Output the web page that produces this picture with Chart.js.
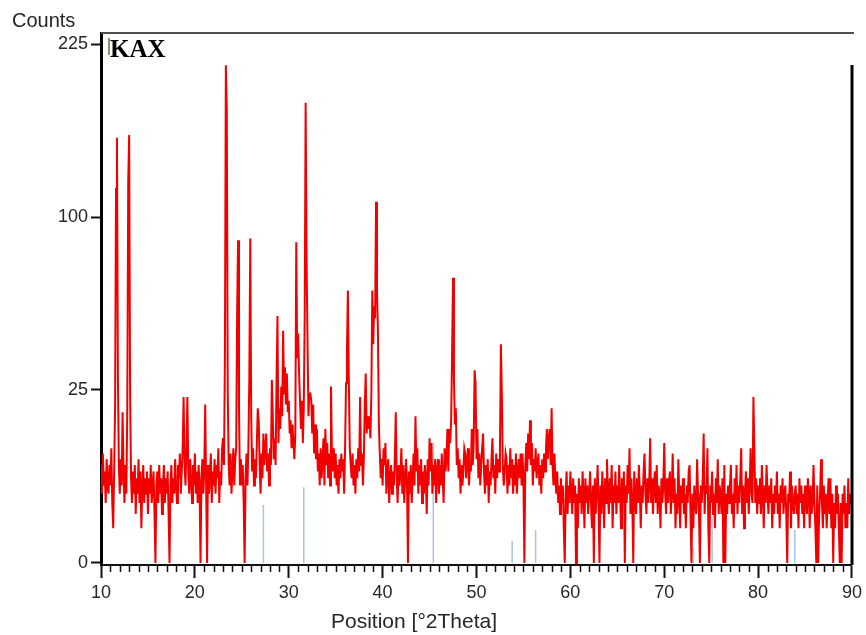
<!DOCTYPE html>
<html>
<head>
<meta charset="utf-8">
<title>KAX</title>
<script src="https://cdn.jsdelivr.net/npm/chart.js@4.4.1/dist/chart.umd.min.js"></script>
<style>
    body { margin: 0; background: #fff; }
    #wrap { width: 866px; height: 635px; }
</style>
</head>
<body>
<div id="wrap"><canvas id="xrdChart" width="866" height="635"></canvas></div>
<script>
// scan: one count reading every 0.1 deg 2theta, from 10 to 90
var startAngle = 10;
var stepAngle = 0.1;

var counts = [
    8, 4, 10, 5, 7, 3, 9, 5, 4, 8,           // 10
    5, 11, 3, 1, 7, 20, 117, 151, 30, 8,
    4, 9, 5, 19, 7, 3, 8, 4, 20, 122,
    153, 24, 6, 3, 7, 4, 8, 2, 6, 4,
    9, 3, 7, 1, 5, 8, 3, 6, 4, 7,
    2, 6, 4, 8, 3, 5, 7, 2, 0, 5,
    7, 3, 8, 4, 6, 2, 5, 8, 3, 6,
    4, 7, 2, 0, 5, 8, 3, 6, 4, 9,
    5, 3, 8, 6, 10, 4, 7, 11, 23, 8,
    5, 11, 23, 7, 4, 9, 6, 3, 8, 5,
    10, 4, 7, 3, 8, 5, 0, 6, 9, 4,           // 20
    7, 21, 5, 0, 8, 4, 6, 10, 3, 7,
    5, 9, 4, 8, 6, 11, 3, 7, 5, 11,
    13, 8, 35, 207, 171, 25, 8, 5, 10, 4,
    7, 11, 5, 9, 11, 51, 87, 20, 5, 9,
    5, 8, 3, 0, 6, 10, 5, 11, 29, 88,
    18, 7, 11, 5, 9, 6, 12, 20, 17, 8,
    4, 10, 6, 14, 8, 11, 14, 7, 10, 5,
    11, 8, 28, 18, 9, 13, 8, 28, 51, 12,
    20, 15, 26, 18, 45, 24, 32, 21, 30, 19,
    22, 14, 17, 11, 16, 12, 9, 14, 86, 35,   // 30
    44, 30, 22, 15, 22, 12, 20, 51, 177, 77,
    41, 18, 24, 24, 22, 14, 21, 10, 16, 9,
    15, 7, 10, 5, 11, 6, 9, 13, 5, 15,
    8, 12, 6, 10, 5, 26, 10, 7, 11, 6,
    10, 5, 8, 4, 9, 6, 10, 7, 9, 4,
    11, 27, 37, 62, 28, 11, 8, 6, 10, 5,
    8, 4, 9, 6, 11, 7, 23, 8, 10, 5,
    9, 21, 30, 14, 18, 15, 18, 13, 24, 62,
    40, 55, 50, 109, 62, 45, 16, 10, 6, 9,
    5, 11, 8, 12, 4, 7, 9, 3, 6, 8,          // 40
    4, 7, 5, 9, 19, 6, 3, 8, 5, 7,
    11, 4, 8, 3, 6, 9, 5, 0, 7, 4,
    8, 3, 6, 10, 5, 18, 7, 11, 4, 8,
    5, 9, 3, 7, 4, 8, 6, 2, 9, 5,
    13, 7, 12, 4, 8, 5, 9, 3, 7, 9,
    4, 8, 5, 10, 6, 3, 11, 7, 9, 15,
    7, 15, 12, 17, 37, 68, 28, 16, 20, 8,
    11, 6, 9, 4, 8, 5, 7, 11, 10, 6,
    9, 11, 5, 8, 7, 15, 8, 12, 31, 27,
    9, 15, 6, 10, 5, 8, 11, 14, 7, 4,        // 50
    8, 5, 9, 3, 7, 5, 9, 13, 6, 8,
    4, 10, 6, 9, 7, 11, 40, 24, 8, 5,
    7, 10, 9, 4, 8, 5, 11, 6, 9, 4,
    8, 5, 10, 4, 7, 9, 6, 10, 5, 10,
    6, 0, 8, 12, 7, 14, 9, 17, 8, 12,
    5, 9, 7, 11, 6, 8, 10, 5, 8, 4,
    9, 6, 10, 7, 11, 15, 9, 13, 15, 8,
    20, 8, 5, 10, 6, 4, 7, 3, 5, 2,
    6, 3, 5, 1, 0, 4, 7, 2, 5, 3,
    7, 4, 2, 6, 3, 5, 0, 4, 1, 6,            // 60
    3, 5, 2, 7, 4, 1, 6, 3, 5, 2,
    4, 7, 3, 1, 5, 0, 6, 2, 4, 8,
    3, 0, 5, 2, 7, 4, 1, 6, 3, 9,
    4, 2, 6, 3, 8, 1, 5, 3, 7, 2,
    5, 3, 8, 4, 1, 6, 3, 7, 0, 5,
    3, 8, 4, 11, 2, 6, 3, 0, 7, 4,
    2, 6, 3, 8, 4, 1, 5, 3, 7, 10,
    4, 2, 6, 3, 5, 13, 3, 6, 2, 5,
    7, 3, 8, 2, 5, 4, 1, 6, 3, 5,
    12, 4, 2, 6, 3, 5, 7, 2, 4, 10,          // 70
    3, 6, 1, 4, 2, 9, 4, 1, 5, 3,
    6, 2, 4, 1, 5, 3, 7, 8, 2, 0,
    4, 1, 5, 3, 2, 9, 4, 2, 0, 5,
    3, 6, 14, 2, 5, 4, 11, 1, 0, 5,
    3, 7, 2, 4, 1, 6, 3, 9, 2, 5,
    4, 2, 6, 0, 8, 0, 4, 2, 5, 3,
    5, 8, 2, 4, 1, 6, 3, 8, 2, 5,
    3, 6, 11, 2, 5, 1, 4, 7, 3, 6,
    2, 5, 11, 4, 3, 23, 11, 3, 6, 2,
    5, 3, 6, 2, 8, 4, 1, 5, 3, 8,            // 80
    4, 2, 5, 3, 6, 1, 4, 2, 5, 3,
    7, 2, 4, 1, 5, 3, 6, 2, 4, 5,
    2, 0, 4, 3, 7, 1, 5, 3, 2, 4,
    5, 2, 4, 1, 6, 3, 5, 2, 4, 1,
    5, 3, 2, 6, 4, 1, 5, 2, 3, 8,
    3, 1, 0, 5, 0, 2, 4, 9, 3, 1,
    5, 2, 4, 1, 3, 6, 2, 6, 1, 4,
    0, 3, 1, 5, 2, 4, 1, 0, 3, 0,
    4, 2, 5, 1, 3, 1, 6, 2, 4, 3,
    5                                         // 90
];

// reference pattern sticks (blue)
var refAngles = [27.3, 31.6, 45.4, 53.8, 56.3, 73.1, 75.1, 83.9];
var refCounts = [2.8, 4.8, 12, 0.4, 0.9, 0.2, 1.8, 0.9];

var yTickValues = [0, 25, 100, 225];
var xTickValues = [10, 20, 30, 40, 50, 60, 70, 80, 90];

var fontFamily = '"Liberation Sans", Arial, sans-serif';

// axis is square-root scaled, so plot sqrt(counts)
var patternData = counts.map(function(c, i) {
    return { x: Math.round((startAngle + i * stepAngle) * 10) / 10, y: Math.sqrt(c) };
});

var refData = [];
refAngles.forEach(function(a, i) {
    refData.push({ x: a, y: 0 }, { x: a, y: Math.sqrt(refCounts[i]) }, { x: a, y: null });
});

var framePlugin = {
    id: 'frame',
    afterDraw: function(chart) {
        var c = chart.ctx;
        var area = chart.chartArea;
        var xs = chart.scales.x;
        c.save();

        // top edge of the plot box
        c.strokeStyle = '#4d4d4d';
        c.lineWidth = 2;
        c.beginPath();
        c.moveTo(area.left, area.top);
        c.lineTo(area.right + 2, area.top);
        c.stroke();

        // right edge
        c.strokeStyle = '#000';
        c.lineWidth = 3;
        c.beginPath();
        c.moveTo(area.right, area.top + 32);
        c.lineTo(area.right, area.bottom);
        c.stroke();

        // minor ticks every degree
        c.strokeStyle = '#111';
        c.lineWidth = 1.5;
        c.beginPath();
        for (var v = xs.min + 1; v < xs.max; v++) {
            if (v % 10 === 0) continue;
            var px = Math.round(xs.getPixelForValue(v)) + 0.5;
            c.moveTo(px, area.bottom);
            c.lineTo(px, area.bottom + 7);
        }
        c.stroke();

        // little legend marker
        c.strokeStyle = '#6b6842';
        c.lineWidth = 1.5;
        c.beginPath();
        c.moveTo(109, 38);
        c.lineTo(109, 55);
        c.stroke();

        c.fillStyle = '#262626';
        c.textBaseline = 'alphabetic';
        c.textAlign = 'left';
        c.font = '20px ' + fontFamily;
        c.fillText('Counts', 12, 27);
        c.font = '21px ' + fontFamily;
        c.fillText('Position [°2Theta]', 331, 628);

        c.fillStyle = '#000';
        c.font = 'bold 25px "Liberation Serif", "Times New Roman", serif';
        c.fillText('KAX', 110, 57);
        c.restore();
    }
};

var ctx = document.getElementById('xrdChart').getContext('2d');
var xrdChart = new Chart(ctx, {
    type: 'line',
    data: {
        datasets: [{
            label: 'KAX',
            data: patternData,
            borderColor: '#f20000',
            borderWidth: 2,
            pointRadius: 0,
            tension: 0,
            order: 1
        }, {
            label: 'Reference',
            data: refData,
            borderColor: '#a9c5e6',
            borderWidth: 1.5,
            pointRadius: 0,
            spanGaps: false,
            order: 2
        }]
    },
    options: {
        responsive: false,
        animation: false,
        layout: {
            padding: { top: 33, right: 14, left: 0, bottom: 0 }
        },
        plugins: {
            legend: { display: false },
            tooltip: { enabled: false }
        },
        scales: {
            x: {
                type: 'linear',
                min: 10,
                max: 90,
                afterFit: function(scale) { scale.height = 70; },
                afterBuildTicks: function(scale) {
                    scale.ticks = xTickValues.map(function(v) { return { value: v }; });
                },
                grid: {
                    drawOnChartArea: false,
                    tickLength: 13,
                    tickWidth: 2,
                    tickColor: '#111'
                },
                border: { color: '#111', width: 2 },
                ticks: {
                    color: '#262626',
                    font: { family: fontFamily, size: 18 },
                    padding: 4,
                    maxRotation: 0,
                    autoSkip: false
                }
            },
            y: {
                type: 'linear',
                min: -0.06,
                max: 15.32,
                afterFit: function(scale) { scale.width = 101; },
                afterBuildTicks: function(scale) {
                    scale.ticks = yTickValues.map(function(v) { return { value: Math.sqrt(v) }; });
                },
                grid: {
                    drawOnChartArea: false,
                    tickLength: 10,
                    tickWidth: 2,
                    tickColor: '#111'
                },
                border: { color: '#000', width: 3 },
                ticks: {
                    color: '#262626',
                    font: { family: fontFamily, size: 18 },
                    padding: 3,
                    callback: function(value) { return Math.round(value * value); }
                }
            }
        }
    },
    plugins: [framePlugin]
});
</script>
</body>
</html>
